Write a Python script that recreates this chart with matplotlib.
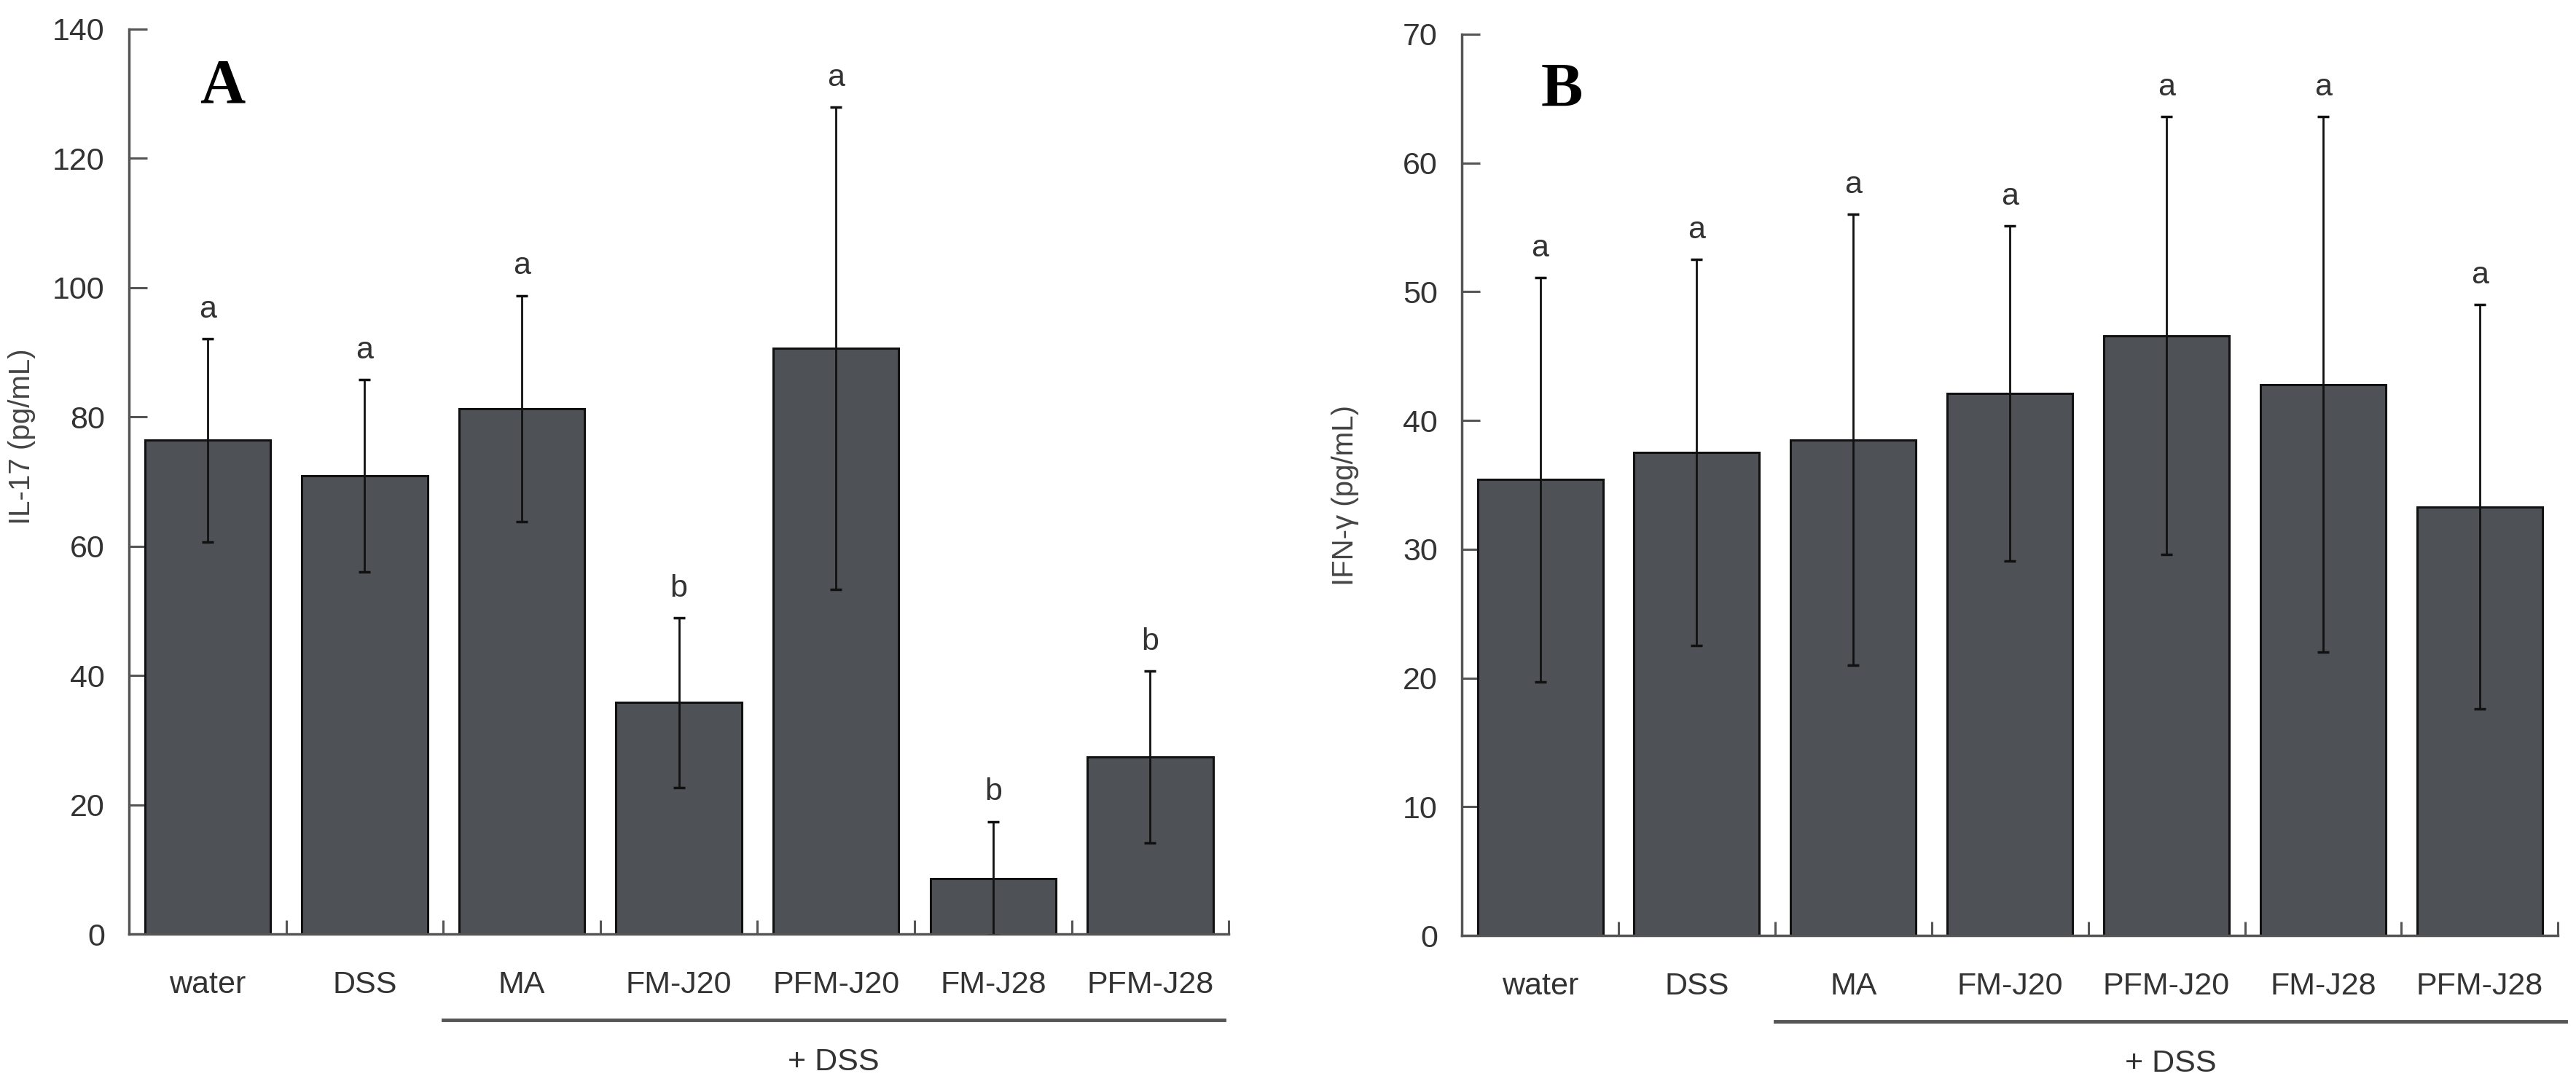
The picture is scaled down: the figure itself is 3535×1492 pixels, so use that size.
import numpy as np
import matplotlib
matplotlib.use('Agg')
import matplotlib.pyplot as plt
import matplotlib.transforms as mtransforms

# Dados
grupos = ['water', 'DSS', 'MA', 'FM-J20', 'PFM-J20', 'FM-J28', 'PFM-J28']

il17_media = [76.4, 70.9, 81.3, 35.8, 90.6, 8.6, 27.4]
il17_erro = [15.7, 14.9, 17.5, 13.1, 37.3, 8.8, 13.3]
il17_letras = ['a', 'a', 'a', 'b', 'a', 'b', 'b']

ifn_media = [35.4, 37.5, 38.5, 42.1, 46.6, 42.8, 33.3]
ifn_erro = [15.7, 15.0, 17.5, 13.0, 17.0, 20.8, 15.7]
ifn_letras = ['a', 'a', 'a', 'a', 'a', 'a', 'a']

plt.rcParams['font.family'] = ['Liberation Sans', 'DejaVu Sans']

cor_barra = '#4e5256'
cor_texto = '#333333'
cor_eixo = '#555555'

fig = plt.figure(figsize=(35.35, 14.92), dpi=100)
ax1 = fig.add_axes([0.0501, 0.1407, 0.4269, 0.8325])
ax2 = fig.add_axes([0.5675, 0.1394, 0.4255, 0.8291])


def painel(ax, media, erro, letras, ymax, passo, ylabel, letra_painel, pos_letra, label_x, label_y, fim_linha):
    x = np.arange(len(grupos))
    ax.bar(x, media, width=0.8, color=cor_barra, edgecolor='#111111', linewidth=2.2, zorder=2)
    ax.errorbar(x, media, yerr=erro, fmt='none', ecolor='#111111', elinewidth=2.0,
                capsize=5.5, capthick=2.5, zorder=3)

    for i, (m, e, l) in enumerate(zip(media, erro, letras)):
        ax.annotate(l, xy=(i, m + e), xytext=(0, 29), textcoords='offset points',
                    ha='center', va='center', fontsize=31, color=cor_texto)

    ax.set_xlim(-0.5, 6.5)
    ax.set_ylim(0, ymax)
    ax.set_yticks(np.arange(0, ymax + 1, passo))
    ax.tick_params(axis='y', direction='in', length=18, width=2.2, color=cor_eixo,
                   labelsize=31, labelcolor=cor_texto, pad=24)

    ax.set_xticks(x)
    ax.set_xticklabels(grupos)
    ax.set_xticks(np.arange(0.5, 7, 1), minor=True)
    ax.tick_params(axis='x', which='major', length=0, labelsize=31, labelcolor=cor_texto, pad=36)
    ax.tick_params(axis='x', which='minor', direction='in', length=14, width=2.2, color=cor_eixo)

    for lado in ['top', 'right']:
        ax.spines[lado].set_visible(False)
    for lado in ['left', 'bottom']:
        ax.spines[lado].set_color(cor_eixo)
        ax.spines[lado].set_linewidth(2.5)

    ax.set_ylabel(ylabel, fontsize=29, color='#444444')
    ax.yaxis.set_label_coords(label_x, label_y)

    ax.text(pos_letra[0], pos_letra[1], letra_painel, fontsize=62, fontweight='bold',
            family='Liberation Serif', ha='center', va='center', color='black')

    # linha "+ DSS" abaixo dos grupos tratados
    trans = mtransforms.blended_transform_factory(ax.transData, ax.transAxes)
    ax.plot([1.5, fim_linha], [-0.095, -0.095], color=cor_eixo, linewidth=3.5,
            transform=trans, clip_on=False)
    ax.text((1.5 + fim_linha) / 2, -0.142, '+ DSS', transform=trans, ha='center',
            va='center', fontsize=31, color=cor_texto)


painel(ax1, il17_media, il17_erro, il17_letras, 140, 20, 'IL-17 (pg/mL)', 'A',
       (0.094, 131), -0.085, 0.55, 6.47)
painel(ax2, ifn_media, ifn_erro, ifn_letras, 70, 10, 'IFN-γ (pg/mL)', 'B',
       (0.14, 65.6), -0.094, 0.488, 6.55)

plt.savefig('out.png', dpi=100)
